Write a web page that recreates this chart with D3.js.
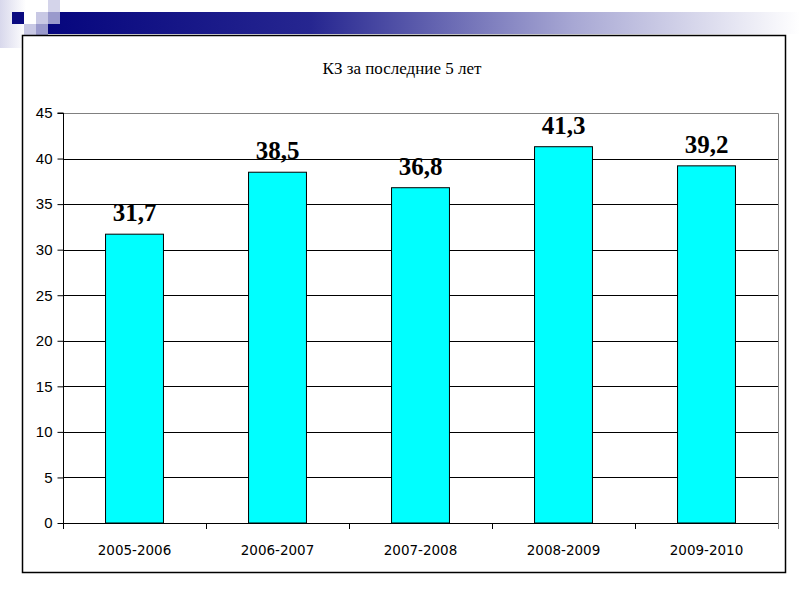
<!DOCTYPE html>
<html><head><meta charset="utf-8">
<script src="https://cdn.jsdelivr.net/npm/d3@7"></script>
<style>body{margin:0;background:#fff}svg{display:block}</style>
</head><body>
<script>
const categories = ["2005-2006","2006-2007","2007-2008","2008-2009","2009-2010"];
const values = [31.7, 38.5, 36.8, 41.3, 39.2];
const labels = ["31,7","38,5","36,8","41,3","39,2"];
const yTicks = [0,5,10,15,20,25,30,35,40,45];
const title = "КЗ за последние 5 лет";

const SERIF="'Liberation Serif', 'Times New Roman', serif";
const SANS="'Liberation Sans', Arial, sans-serif";
const W=800,H=600;
const svg=d3.select("body").append("svg").attr("width",W).attr("height",H);
const defs=svg.append("defs");
const g1=defs.append("linearGradient").attr("id","topbar").attr("x1","0").attr("x2","1");
g1.append("stop").attr("offset","0").attr("stop-color","#06067e");
g1.append("stop").attr("offset","0.35").attr("stop-color","#262690");
g1.append("stop").attr("offset","0.7").attr("stop-color","#a8a8d4");
g1.append("stop").attr("offset","1").attr("stop-color","#ffffff");
const g2=defs.append("linearGradient").attr("id","leftfade").attr("x1","0").attr("x2","1");
g2.append("stop").attr("offset","0").attr("stop-color","#d8d8ec");
g2.append("stop").attr("offset","1").attr("stop-color","#ffffff");

// decoration
svg.append("rect").attr("x",0).attr("y",0).attr("width",26).attr("height",48).attr("fill","url(#leftfade)");
svg.append("rect").attr("x",48).attr("y",12).attr("width",752).attr("height",22).attr("fill","url(#topbar)");
const sq=[[12,12,"#0a0a80"],[48,0,"#d4d4ea"],[36,12,"#c8c8e4"],[48,12,"#9a9acc"],[24,24,"#c8c8e4"],[36,24,"#9a9acc"],[24,36,"#9a9acc"]];
svg.selectAll("rect.sq").data(sq).enter().append("rect").attr("class","sq")
 .attr("x",d=>d[0]).attr("y",d=>d[1]).attr("width",12).attr("height",12).attr("fill",d=>d[2]);

// frame
svg.append("rect").attr("x",22.5).attr("y",35.5).attr("width",763).attr("height",537).attr("fill","#fff").attr("stroke","#000").attr("stroke-width",1.5);

const L=63,R=778,T=113,B=523;
const x=d3.scaleBand().domain(categories).range([L,R]);
const y=d3.scaleLinear().domain([0,45]).range([B,T]);

// gridlines
svg.append("g").selectAll("line").data(yTicks.filter(t=>t>0&&t<45)).enter().append("line")
 .attr("x1",L).attr("x2",R).attr("y1",d=>Math.round(y(d))+0.5).attr("y2",d=>Math.round(y(d))+0.5)
 .attr("stroke","#000").attr("stroke-width",1);
// top and right gray border
svg.append("path").attr("d",`M${L},${T+0.5}H${R+0.5}V${B}`).attr("fill","none").attr("stroke","#808080").attr("stroke-width",1);

// bars
const bw=x.bandwidth()*0.405;
svg.append("g").selectAll("rect").data(values).enter().append("rect")
 .attr("x",(d,i)=>x(categories[i])+x.bandwidth()/2-bw/2)
 .attr("y",d=>y(d)).attr("width",bw).attr("height",d=>B-y(d))
 .attr("fill","#00ffff").attr("stroke","#000").attr("stroke-width",1);

// y axis
const ya=svg.append("g").attr("transform",`translate(${L+0.5},0)`).call(d3.axisLeft(y).tickValues(yTicks).tickSize(6).tickPadding(5).tickFormat(d3.format("d")));
ya.select(".domain").attr("stroke","#000").attr("d",`M-6,${T}H0V${B}`);
ya.selectAll(".tick line").attr("stroke","#000");
ya.selectAll("text").style("font-family",SANS).style("font-size","15px").attr("fill","#000");

// x axis
const xa=svg.append("g").attr("transform",`translate(0,${B+0.5})`).call(d3.axisBottom(x).tickSize(0).tickPadding(22));
xa.select(".domain").attr("stroke","#000").attr("d",`M${L},0H${R}`);
xa.selectAll("text").style("font-family","'DejaVu Sans', Tahoma, sans-serif").style("font-size","13.5px").attr("fill","#000");
svg.append("g").selectAll("line").data(d3.range(categories.length+1)).enter().append("line")
 .attr("x1",i=>Math.round(L+i*x.bandwidth())+0.5).attr("x2",i=>Math.round(L+i*x.bandwidth())+0.5)
 .attr("y1",B).attr("y2",B+6).attr("stroke",(i)=>i===categories.length?"#808080":"#000");

// data labels
svg.append("g").selectAll("text").data(values).enter().append("text")
 .attr("x",(d,i)=>x(categories[i])+x.bandwidth()/2).attr("y",d=>y(d)-13)
 .attr("text-anchor","middle").style("font-family",SERIF)
 .style("font-weight","bold").style("font-size","25px").attr("fill","#000").text((d,i)=>labels[i]);

// title
svg.append("text").attr("x",402).attr("y",74).attr("text-anchor","middle")
 .style("font-family",SERIF).style("font-size","17px").attr("fill","#000").text(title);
</script>
</body></html>
